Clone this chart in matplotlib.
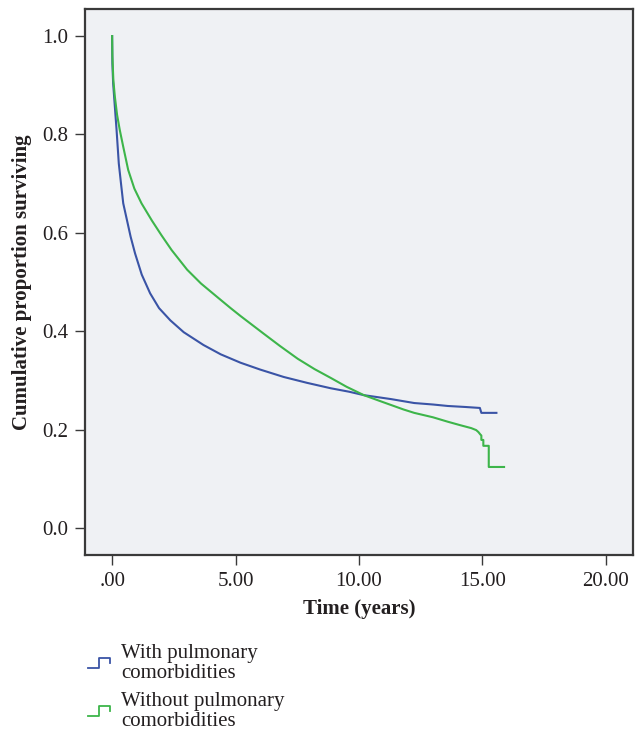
import matplotlib
matplotlib.use("Agg")
import matplotlib.pyplot as plt
from matplotlib.legend_handler import HandlerBase
from matplotlib.lines import Line2D

# Kaplan-Meier curves
time_with = [0, 0.01, 0.04, 0.08, 0.18, 0.27, 0.36, 0.45, 0.6, 0.75, 0.93, 1.2, 1.54,
             1.9, 2.36, 2.9, 3.7, 4.4, 5.2, 6.0, 6.95, 7.9, 8.86, 9.6, 10.2, 11.3,
             12.24, 13.0, 13.6, 14.3, 14.9, 14.96, 15.57]
surv_with = [1.0, 0.944, 0.905, 0.877, 0.809, 0.741, 0.70, 0.66, 0.626, 0.592, 0.558,
             0.515, 0.477, 0.447, 0.422, 0.398, 0.372, 0.353, 0.336, 0.322, 0.307,
             0.295, 0.284, 0.277, 0.270, 0.262, 0.254, 0.251, 0.248, 0.246, 0.244,
             0.234, 0.234]

time_without = [0, 0.01, 0.05, 0.11, 0.2, 0.31, 0.45, 0.65, 0.9, 1.19, 1.61, 2.0, 2.41,
                3.04, 3.6, 4.27, 4.8, 5.2, 6.14, 6.8, 7.52, 8.2, 8.86, 9.5, 10.2, 10.8,
                11.3, 11.8, 12.24, 13.0, 13.6, 14.1, 14.55, 14.75, 14.84, 14.92, 14.96,
                14.96, 15.04, 15.04, 15.26, 15.26, 15.88]
surv_without = [1.0, 0.96, 0.91, 0.877, 0.84, 0.809, 0.775, 0.728, 0.69, 0.66, 0.625,
                0.595, 0.565, 0.525, 0.497, 0.469, 0.447, 0.431, 0.395, 0.370, 0.344,
                0.323, 0.305, 0.287, 0.270, 0.259, 0.25, 0.241, 0.234, 0.225, 0.216,
                0.209, 0.203, 0.199, 0.195, 0.19, 0.188, 0.179, 0.179, 0.167, 0.167,
                0.124, 0.124]

labels = ["With pulmonary\ncomorbidities", "Without pulmonary\ncomorbidities"]
colors = ["#3a54a6", "#3db54a"]
x_ticks = [0, 5, 10, 15, 20]
x_tick_labels = [".00", "5.00", "10.00", "15.00", "20.00"]
y_ticks = [0.0, 0.2, 0.4, 0.6, 0.8, 1.0]

plt.rcParams["font.family"] = ["Liberation Serif", "DejaVu Serif"]
text_color = "#231f20"


class StepHandler(HandlerBase):
    """Small step glyph like the SPSS survival legend."""

    def create_artists(self, legend, orig_handle, xdescent, ydescent,
                       width, height, fontsize, trans):
        xs = [0, 0.5, 0.5, 1, 1]
        ys = [0, 0, 1, 1, 0.5]
        h = height * 0.7
        y0 = (height - h) / 2 - ydescent
        line = Line2D([-xdescent + x * width for x in xs],
                      [y0 + y * h for y in ys],
                      color=orig_handle.get_color(), linewidth=1.3)
        line.set_transform(trans)
        return [line]


fig = plt.figure(figsize=(6.38, 7.33), dpi=100)
ax = fig.add_axes([0.1332, 0.2428, 0.8588, 0.7449])
ax.set_facecolor("#eff1f4")

h1, = ax.plot(time_with, surv_with, color=colors[0], linewidth=1.5)
h2, = ax.plot(time_without, surv_without, color=colors[1], linewidth=1.5)

ax.set_xlim(-1.1, 21.1)
ax.set_ylim(-0.055, 1.055)
ax.set_xticks(x_ticks)
ax.set_xticklabels(x_tick_labels)
ax.set_yticks(y_ticks)
ax.set_yticklabels([f"{v:.1f}" for v in y_ticks])

for side in ax.spines.values():
    side.set_linewidth(1.6)
    side.set_color("#3a3a3a")
ax.tick_params(direction="out", length=7, width=1, color="#3a3a3a",
               labelsize=15, labelcolor=text_color, pad=5)

ax.set_xlabel("Time (years)", fontsize=15, fontweight="bold", color=text_color, labelpad=6)
ax.set_ylabel("Cumulative proportion surviving", fontsize=15, fontweight="bold",
              color=text_color, labelpad=7)

leg = fig.legend([h1, h2], labels, loc="upper left", bbox_to_anchor=(0.125, 0.133),
                 frameon=False, fontsize=15, handlelength=1.05, handletextpad=0.55,
                 labelspacing=0.45, borderaxespad=0, labelcolor=text_color,
                 handler_map={Line2D: StepHandler()})
for t in leg.get_texts():
    t.set_linespacing(1.05)

fig.savefig("out.png", dpi=100)
plt.close(fig)
